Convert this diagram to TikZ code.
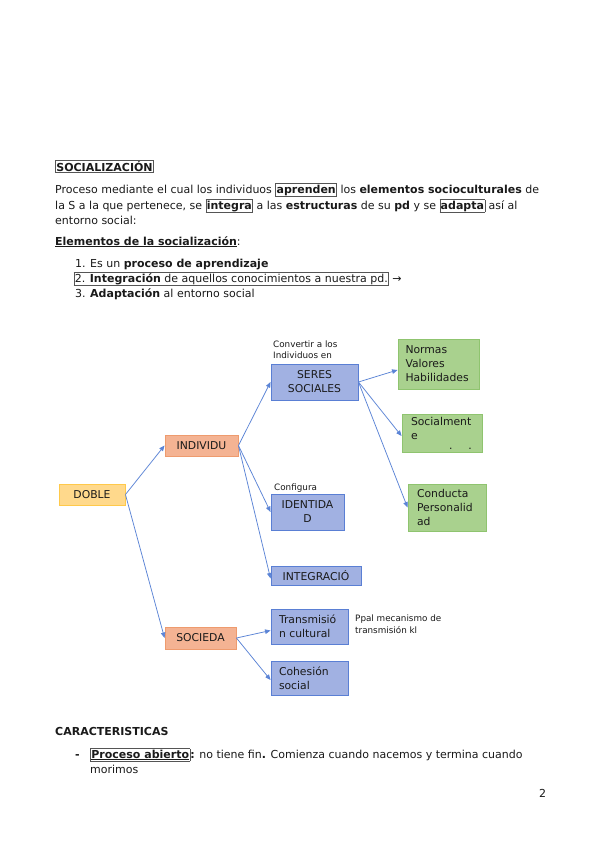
\documentclass[tikz,border=0pt]{standalone}
\usepackage{fontspec}
\setmainfont{DejaVu Sans}
\usetikzlibrary{arrows.meta}
\definecolor{bluefill}{HTML}{A1B1E2}
\definecolor{blueline}{HTML}{5A7FD4}
\definecolor{greenfill}{HTML}{A9D18E}
\definecolor{greenline}{HTML}{8FC46F}
\definecolor{salfill}{HTML}{F4B393}
\definecolor{salline}{HTML}{EE9B6E}
\definecolor{yelfill}{HTML}{FFD98C}
\definecolor{yelline}{HTML}{FFC94A}
\definecolor{arrowc}{HTML}{5B84D6}
\definecolor{txt}{HTML}{1A1A1A}
\definecolor{boxgray}{HTML}{555555}
\newcommand\bx[1]{{\setlength\fboxsep{0.6pt}\setlength\fboxrule{0.6pt}\fcolorbox{boxgray}{white}{#1}}}
\newcommand\bodyfont{\fontsize{11}{13}\selectfont}
\newcommand\boxfont{\fontsize{10.8}{14}\selectfont}
\newcommand\smallfont{\fontsize{8.8}{11}\selectfont}
\begin{document}
\begin{tikzpicture}[x=1pt,y=-1pt,
  every node/.style={text=txt},
  bodytext/.style={anchor=base west, inner sep=0pt, font=\bodyfont},
  smalltext/.style={anchor=base west, inner sep=0pt, font=\smallfont},
  diabox/.style={draw, line width=0.9pt, inner sep=0pt, font=\boxfont, align=center},
  bluebox/.style={diabox, fill=bluefill, draw=blueline},
  greenbox/.style={diabox, fill=greenfill, draw=greenline},
  salbox/.style={diabox, fill=salfill, draw=salline},
  yelbox/.style={diabox, fill=yelfill, draw=yelline},
  conn/.style={draw=arrowc, line width=0.75pt, -{Triangle[length=5.5pt,width=4.5pt]}}
]
\useasboundingbox[fill=white] (0,0) rectangle (599,848);

% header text
\node[bodytext] (title) at (55,171) {\bx{\textbf{SOCIALIZACIÓN}}};
\node[bodytext] (p1) at (55,193) {Proceso mediante el cual los individuos \bx{\textbf{aprenden}} los \textbf{elementos socioculturales} de};
\node[bodytext] (p2) at (55,209) {la S a la que pertenece, se \bx{\textbf{integra}} a las \textbf{estructuras} de su \textbf{pd} y se \bx{\textbf{adapta}} así al};
\node[bodytext] (p3) at (55,224) {entorno social:};
\node[bodytext] (elem) at (55,245) {\underline{\textbf{Elementos de la socialización}}:};
\node[bodytext] (l1) at (75,267) {\makebox[15pt][l]{1.}Es un \textbf{proceso de aprendizaje}};
\node[bodytext] (l2) at (73.5,282) {\bx{\makebox[15pt][l]{2.}\textbf{Integración} de aquellos conocimientos a nuestra pd.} →};
\node[bodytext] (l3) at (75,297) {\makebox[15pt][l]{3.}\textbf{Adaptación} al entorno social};

% diagram boxes
\node[yelbox, minimum width=66pt, minimum height=21pt] (doble) at (92,494.5) {DOBLE};
\node[salbox, minimum width=73pt, minimum height=21pt] (indiv) at (201.5,445.5) {INDIVIDU};
\node[salbox, minimum width=71pt, minimum height=22pt] (socie) at (200.5,638) {SOCIEDA};
\node[bluebox, minimum width=87pt, minimum height=36pt] (seres) at (314.5,382) {SERES\\SOCIALES};
\node[bluebox, minimum width=73pt, minimum height=36pt] (ident) at (307.5,512) {IDENTIDA\\D};
\node[bluebox, minimum width=90pt, minimum height=19pt] (integ) at (316,575.5) {INTEGRACIÓ};
\node[bluebox, text width=61pt, inner xsep=8pt, align=left, minimum height=35pt] (trans) at (309.5,626.5) {Transmisió\\n cultural};
\node[bluebox, text width=61pt, inner xsep=8pt, align=left, minimum height=34pt] (cohes) at (309.5,678) {Cohesión\\social};
\node[greenbox, text width=66pt, inner xsep=7.5pt, align=left, minimum height=50pt] (normas) at (438.5,364) {Normas\\Valores\\Habilidades};
\node[greenbox, text width=62pt, inner xsep=9pt, align=left, minimum height=38pt] (social) at (442,433) {Socialment\\e\\[-4pt]\hspace{38pt}.\hspace{16pt}.};
\node[greenbox, text width=60pt, inner xsep=9pt, align=left, minimum height=47pt] (conduc) at (447,507.5) {Conducta\\Personalid\\ad};

% small labels
\node[smalltext] (conv1) at (273,347) {Convertir a los};
\node[smalltext] (conv2) at (273,358) {Individuos en};
\node[smalltext] (config) at (274,490) {Configura};
\node[smalltext] (ppal1) at (355,621) {Ppal mecanismo de};
\node[smalltext] (ppal2) at (355,633) {transmisión kl};

% connectors
\draw[conn] (doble.east) -- (indiv.west);
\draw[conn] (doble.east) -- (socie.west);
\draw[conn] (indiv.east) -- (seres.west);
\draw[conn] (indiv.east) -- (ident.west);
\draw[conn] (indiv.east) -- ([yshift=-3pt]integ.west);
\draw[conn] (socie.east) -- ([yshift=-4pt]trans.west);
\draw[conn] (socie.east) -- ([yshift=-2pt]cohes.west);
\draw[conn] (seres.east) -- ([yshift=-6pt]normas.west);
\draw[conn] (seres.east) -- ([yshift=-3pt]social.west);
\draw[conn] (seres.east) -- (conduc.west);

% bottom text
\node[bodytext] (carac) at (55,735) {\textbf{CARACTERISTICAS}};
\node[bodytext] (b1) at (75,758) {\makebox[15pt][l]{\textbf{-}}\bx{\underline{\textbf{Proceso abierto}}}\textbf{:} no tiene fin\textbf{.} Comienza cuando nacemos y termina cuando};
\node[bodytext] (b2) at (90,773) {morimos};
\node[bodytext] (pagen) at (539,797) {2};
\end{tikzpicture}
\end{document}
